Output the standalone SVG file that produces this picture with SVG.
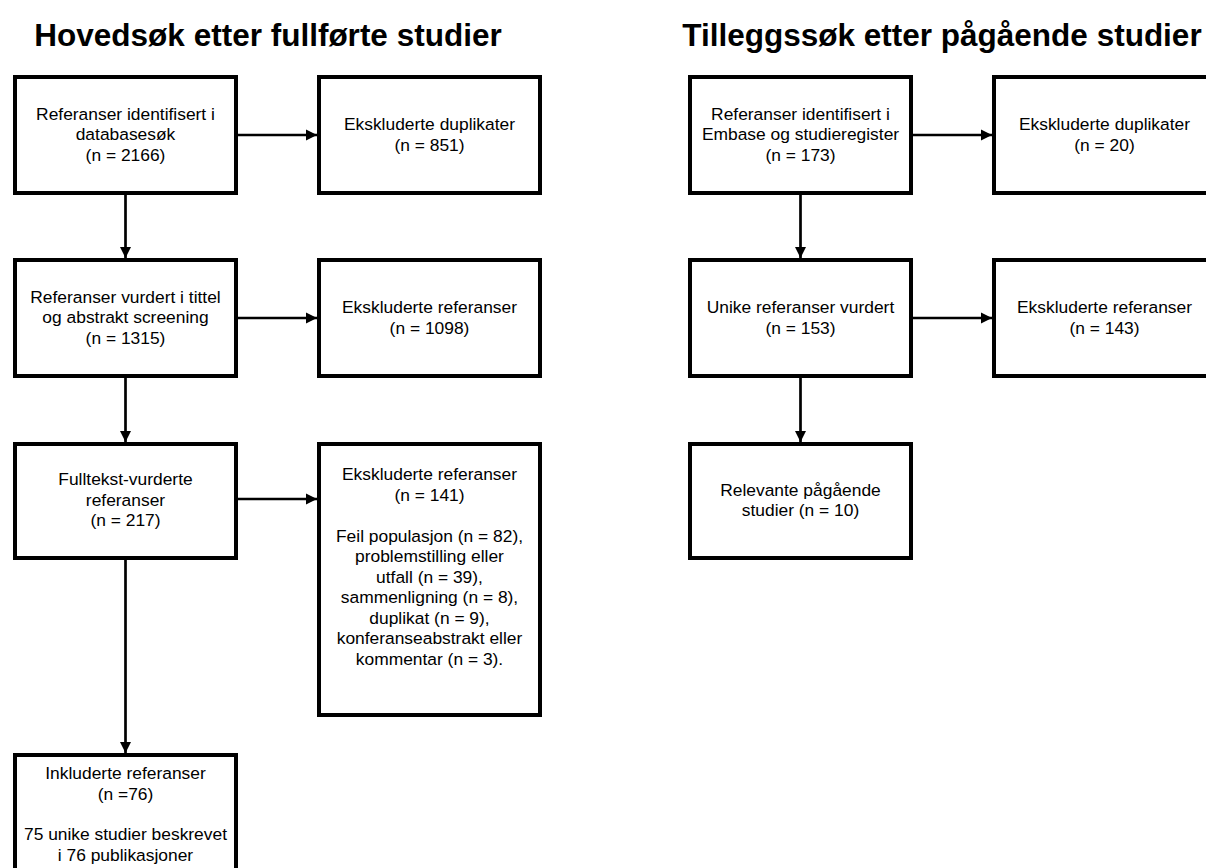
<svg xmlns="http://www.w3.org/2000/svg" width="1206" height="868" viewBox="0 0 1206 868">
<style>
.box{fill:#fff;stroke:#000;stroke-width:4}
.t{font-family:"Liberation Sans",Arial,sans-serif;font-size:17.4px;fill:#000;text-anchor:middle}
.title{font-family:"Liberation Sans",Arial,sans-serif;font-size:31.5px;font-weight:bold;fill:#000;text-anchor:middle}
.c{stroke:#000;stroke-width:2.7;fill:none}
</style>
<defs>
<marker id="ah" markerUnits="userSpaceOnUse" markerWidth="12" markerHeight="12" viewBox="0 0 12 12" refX="11" refY="6" orient="auto">
<path d="M0,0.5 L11,6 L0,11.5 Z" fill="#000"/>
</marker>
</defs>
<rect width="1206" height="868" fill="#fff"/>
<text class="title" x="268" y="46">Hovedsøk etter fullførte studier</text>
<text class="title" x="942" y="46">Tilleggssøk etter pågående studier</text>
<g id="connectors">
<line class="c" x1="238" y1="135" x2="317" y2="135" marker-end="url(#ah)"/>
<line class="c" x1="238" y1="318" x2="317" y2="318" marker-end="url(#ah)"/>
<line class="c" x1="238" y1="499" x2="317" y2="499" marker-end="url(#ah)"/>
<line class="c" x1="125.5" y1="195" x2="125.5" y2="258" marker-end="url(#ah)"/>
<line class="c" x1="125.5" y1="378" x2="125.5" y2="442" marker-end="url(#ah)"/>
<line class="c" x1="125.5" y1="558" x2="125.5" y2="753" marker-end="url(#ah)"/>
<line class="c" x1="913" y1="135" x2="992" y2="135" marker-end="url(#ah)"/>
<line class="c" x1="913" y1="318" x2="992" y2="318" marker-end="url(#ah)"/>
<line class="c" x1="800.5" y1="195" x2="800.5" y2="258" marker-end="url(#ah)"/>
<line class="c" x1="800.5" y1="378" x2="800.5" y2="442" marker-end="url(#ah)"/>
</g>
<g id="n1"><rect class="box" x="15" y="77" width="221" height="116"/>
<text class="t" x="125.5" y="119.5">Referanser identifisert i</text>
<text class="t" x="125.5" y="140">databasesøk</text>
<text class="t" x="125.5" y="160.5">(n = 2166)</text></g>
<g id="n2"><rect class="box" x="319" y="77" width="221" height="116"/>
<text class="t" x="429.5" y="130">Ekskluderte duplikater</text>
<text class="t" x="429.5" y="150.5">(n = 851)</text></g>
<g id="n3"><rect class="box" x="15" y="260" width="221" height="116"/>
<text class="t" x="125.5" y="302.5">Referanser vurdert i tittel</text>
<text class="t" x="125.5" y="323">og abstrakt screening</text>
<text class="t" x="125.5" y="343.5">(n = 1315)</text></g>
<g id="n4"><rect class="box" x="319" y="260" width="221" height="116"/>
<text class="t" x="429.5" y="313">Ekskluderte referanser</text>
<text class="t" x="429.5" y="333.5">(n = 1098)</text></g>
<g id="n5"><rect class="box" x="15" y="444" width="221" height="114"/>
<text class="t" x="125.5" y="485">Fulltekst-vurderte</text>
<text class="t" x="125.5" y="505.5">referanser</text>
<text class="t" x="125.5" y="526">(n = 217)</text></g>
<g id="n6"><rect class="box" x="319" y="444" width="221" height="271"/>
<text class="t" x="429.5" y="480">Ekskluderte referanser</text>
<text class="t" x="429.5" y="500.5">(n = 141)</text>
<text class="t" x="429.5" y="541.5">Feil populasjon (n = 82),</text>
<text class="t" x="429.5" y="562">problemstilling eller</text>
<text class="t" x="429.5" y="582.5">utfall (n = 39),</text>
<text class="t" x="429.5" y="603">sammenligning (n = 8),</text>
<text class="t" x="429.5" y="623.5">duplikat (n = 9),</text>
<text class="t" x="429.5" y="644">konferanseabstrakt eller</text>
<text class="t" x="429.5" y="664.5">kommentar (n = 3).</text></g>
<g id="n7"><rect class="box" x="15" y="755" width="221" height="200"/>
<text class="t" x="125.5" y="779">Inkluderte referanser</text>
<text class="t" x="125.5" y="799.5">(n =76)</text>
<text class="t" x="125.5" y="840">75 unike studier beskrevet</text>
<text class="t" x="125.5" y="860.5">i 76 publikasjoner</text></g>
<g id="nA"><rect class="box" x="690" y="77" width="221" height="116"/>
<text class="t" x="800.5" y="119.5">Referanser identifisert i</text>
<text class="t" x="800.5" y="140">Embase og studieregister</text>
<text class="t" x="800.5" y="160.5">(n = 173)</text></g>
<g id="nB"><rect class="box" x="994" y="77" width="221" height="116"/>
<text class="t" x="1104.5" y="130">Ekskluderte duplikater</text>
<text class="t" x="1104.5" y="150.5">(n = 20)</text></g>
<g id="nC"><rect class="box" x="690" y="260" width="221" height="116"/>
<text class="t" x="800.5" y="313">Unike referanser vurdert</text>
<text class="t" x="800.5" y="333.5">(n = 153)</text></g>
<g id="nD"><rect class="box" x="994" y="260" width="221" height="116"/>
<text class="t" x="1104.5" y="313">Ekskluderte referanser</text>
<text class="t" x="1104.5" y="333.5">(n = 143)</text></g>
<g id="nE"><rect class="box" x="690" y="444" width="221" height="114"/>
<text class="t" x="800.5" y="495.5">Relevante pågående</text>
<text class="t" x="800.5" y="516">studier (n = 10)</text></g>
</svg>
